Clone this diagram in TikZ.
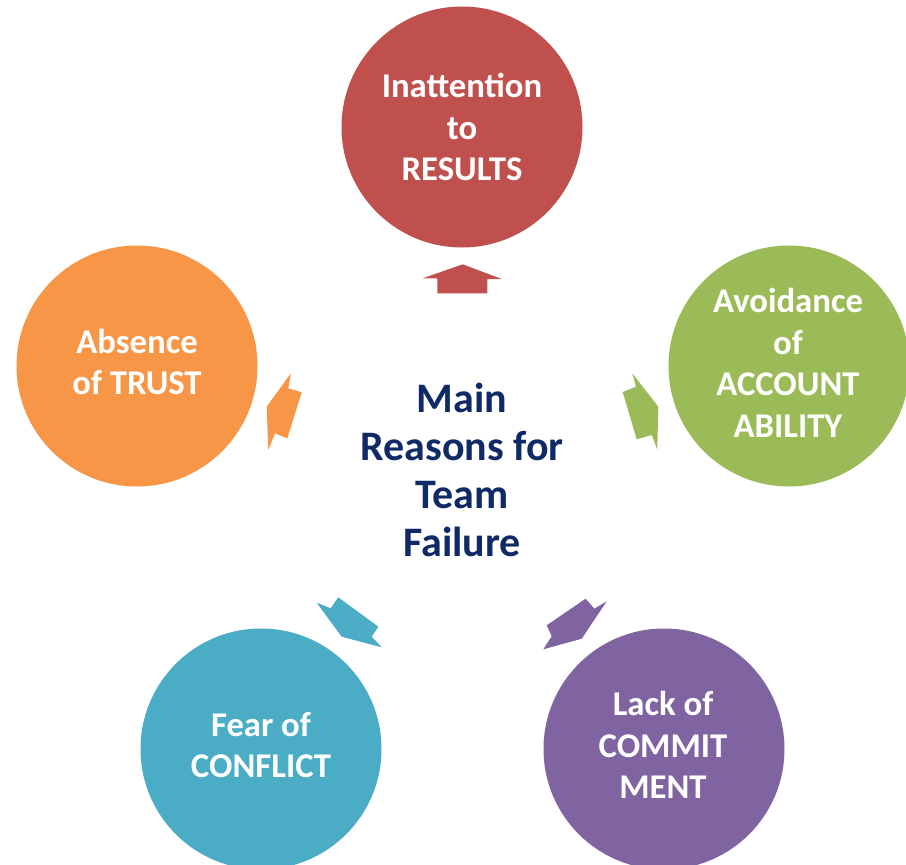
\documentclass[tikz,border=0pt]{standalone}
\usepackage{fontspec}
\setmainfont{Carlito}
\definecolor{cred}{HTML}{C0504D}
\definecolor{cgreen}{HTML}{9BBB59}
\definecolor{corange}{HTML}{F79646}
\definecolor{cblue}{HTML}{4BACC6}
\definecolor{cpurple}{HTML}{8064A2}
\definecolor{navy}{HTML}{0F2A66}
\begin{document}
\begin{tikzpicture}[x=1pt,y=-1pt,
  bub/.style={circle,minimum size=241pt,inner sep=0pt},
  btxt/.style={text=white,align=center,inner sep=0pt,
    font=\fontsize{34.7}{41.5}\selectfont\bfseries},
  mid/.style={text=navy,align=center,font=\fontsize{42}{48}\selectfont\bfseries}]
\useasboundingbox (0,0) rectangle (906,865);
\clip (0,0) rectangle (906,865);
\fill[white] (0,0) rectangle (906,865);
\node[bub,fill=cred] (res) at (462,127) {};
\node[bub,fill=corange] (trust) at (137,366) {};
\node[bub,fill=cgreen] (acc) at (789,366) {};
\node[bub,fill=cblue] (conf) at (261,749) {};
\node[bub,fill=cpurple] (com) at (664,749) {};
\node[btxt] (resT) at (462,127) {Inattention\\to\\RESULTS};
\node[btxt] (trustT) at (137,362) {Absence\\of TRUST};
\node[btxt] (accT) at (788,363) {Avoidance\\of\\ACCOUNT\\ABILITY};
\node[btxt] (confT) at (261,745) {Fear of\\CONFLICT};
\node[btxt] (comT) at (663,745) {Lack of\\COMMIT\\MENT};
\node[mid] (main) at (462,470) {Main\\Reasons for\\Team\\Failure};
% block arrows
\fill[cred] (462.7,264.3) -- (501.7,279) -- (487.3,279) -- (487.3,293.3) -- (437.3,293.3) -- (437.3,278.5) -- (422.7,278.3) -- cycle;
\fill[cgreen] (658.3,406.7) -- (632.3,373.3) -- (636,386.7) -- (622.7,392) -- (636.7,439.3) -- (651.7,435) -- (657.3,449.3) -- cycle;
\fill[corange] (266.7,406.7) -- (291,373.3) -- (288.3,388.3) -- (301.7,392.3) -- (287.3,438.3) -- (275,433.3) -- (268.3,450) -- cycle;
\fill[cblue] (341.7,636.7) -- (316.7,602.7) -- (330.7,608.3) -- (338.3,597.3) -- (378.3,626.7) -- (371.7,636.7) -- (381.7,647.3) -- cycle;
\fill[cpurple] (581.7,638.7) -- (606.7,601.3) -- (594.3,608.7) -- (585.7,598.7) -- (546.7,625.3) -- (551.7,636.3) -- (543.3,649.3) -- cycle;
\end{tikzpicture}
\end{document}
